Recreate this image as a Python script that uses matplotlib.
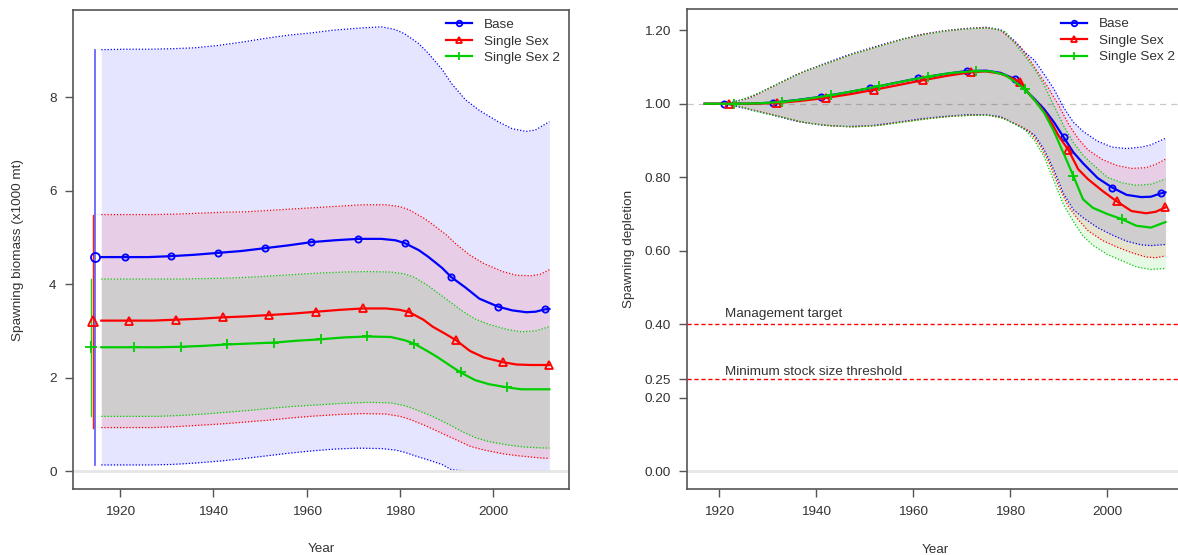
import matplotlib
matplotlib.use('Agg')
import matplotlib.pyplot as plt
from matplotlib.lines import Line2D

plt.rcParams['font.family'] = ['Liberation Sans', 'DejaVu Sans']
plt.rcParams['font.size'] = 9.7

# model names and colours
models = ['Base', 'Single Sex', 'Single Sex 2']
colors = ['#0000FF', '#FF0000', '#00CD00']
markers = ['o', '^', '+']

# spawning biomass (x1000 mt)
base_yr = [1916, 1921, 1926, 1931, 1936, 1941, 1946, 1951, 1956, 1961, 1966, 1971, 1976, 1979,
           1981, 1984, 1986, 1989, 1991, 1994, 1997, 2001, 2004, 2007, 2009, 2011, 2012]
base_ssb = [4.58, 4.58, 4.58, 4.60, 4.63, 4.67, 4.71, 4.77, 4.83, 4.90, 4.94, 4.97, 4.97, 4.94,
            4.88, 4.73, 4.59, 4.35, 4.15, 3.93, 3.69, 3.52, 3.44, 3.40, 3.41, 3.46, 3.47]
base_hi = [9.02, 9.03, 9.03, 9.04, 9.06, 9.11, 9.18, 9.26, 9.33, 9.38, 9.44, 9.48, 9.51, 9.45,
           9.36, 9.15, 8.95, 8.60, 8.30, 7.95, 7.72, 7.48, 7.33, 7.27, 7.30, 7.42, 7.48]
base_lo = [0.13, 0.13, 0.13, 0.14, 0.17, 0.21, 0.26, 0.32, 0.38, 0.43, 0.47, 0.49, 0.48, 0.45,
           0.40, 0.30, 0.24, 0.14, 0.03, 0, 0, 0, 0, 0, 0, 0, 0]

red_yr = [1916, 1922, 1927, 1932, 1937, 1942, 1947, 1952, 1957, 1962, 1967, 1972, 1977, 1980,
          1982, 1985, 1987, 1990, 1992, 1995, 1998, 2002, 2005, 2008, 2010, 2012]
red_ssb = [3.22, 3.22, 3.22, 3.24, 3.26, 3.29, 3.31, 3.34, 3.37, 3.41, 3.45, 3.48, 3.48, 3.45,
           3.40, 3.24, 3.09, 2.92, 2.80, 2.57, 2.43, 2.33, 2.28, 2.27, 2.27, 2.27]
red_hi = [5.49, 5.49, 5.49, 5.50, 5.52, 5.54, 5.55, 5.58, 5.61, 5.64, 5.67, 5.70, 5.70, 5.66,
          5.59, 5.42, 5.28, 5.05, 4.86, 4.62, 4.44, 4.27, 4.19, 4.18, 4.21, 4.31]
red_lo = [0.93, 0.93, 0.93, 0.95, 0.98, 1.01, 1.05, 1.09, 1.14, 1.18, 1.21, 1.23, 1.22, 1.17,
          1.11, 0.99, 0.90, 0.76, 0.67, 0.53, 0.45, 0.37, 0.33, 0.30, 0.28, 0.27]

grn_yr = [1916, 1923, 1928, 1933, 1938, 1943, 1948, 1953, 1958, 1963, 1968, 1973, 1978, 1981,
          1983, 1986, 1988, 1991, 1993, 1996, 1999, 2003, 2006, 2009, 2012]
grn_ssb = [2.65, 2.65, 2.65, 2.66, 2.68, 2.71, 2.73, 2.75, 2.79, 2.82, 2.86, 2.88, 2.87, 2.80,
           2.73, 2.56, 2.44, 2.24, 2.11, 1.95, 1.86, 1.79, 1.75, 1.75, 1.75]
grn_hi = [4.11, 4.11, 4.11, 4.11, 4.12, 4.13, 4.15, 4.18, 4.21, 4.24, 4.26, 4.27, 4.26, 4.22,
          4.15, 3.97, 3.82, 3.60, 3.45, 3.26, 3.14, 3.03, 2.98, 3.00, 3.09]
grn_lo = [1.17, 1.17, 1.17, 1.19, 1.22, 1.26, 1.30, 1.35, 1.39, 1.42, 1.45, 1.47, 1.46, 1.40,
          1.33, 1.21, 1.12, 0.97, 0.86, 0.72, 0.63, 0.56, 0.52, 0.50, 0.49]

# virgin spawning biomass with intervals
virg_x = [1914.6, 1914.3, 1913.8]
virg = [4.58, 3.22, 2.65]
virg_lo = [0.13, 0.93, 1.17]
virg_hi = [9.02, 5.49, 4.11]

# spawning depletion
base_dyr = [1917, 1921, 1926, 1931, 1936, 1941, 1946, 1951, 1956, 1961, 1966, 1971, 1975, 1978, 1981,
            1983, 1985, 1987, 1989, 1991, 1993, 1995, 1998, 2001, 2004, 2007, 2009, 2011, 2012]
base_dep = [1.0, 1.0, 1.0, 1.003, 1.01, 1.019, 1.03, 1.042, 1.056, 1.069, 1.08, 1.089, 1.09, 1.084, 1.067,
            1.038, 1.013, 0.985, 0.95, 0.909, 0.868, 0.838, 0.798, 0.772, 0.752, 0.746, 0.747, 0.756, 0.759]
base_dhi = [1.0, 1.0, 1.015, 1.047, 1.08, 1.106, 1.13, 1.151, 1.17, 1.187, 1.198, 1.205, 1.208, 1.202, 1.17,
            1.14, 1.118, 1.08, 1.04, 0.99, 0.95, 0.925, 0.898, 0.882, 0.878, 0.882, 0.888, 0.90, 0.906]
base_dlo = [1.0, 1.0, 0.985, 0.969, 0.952, 0.942, 0.938, 0.94, 0.948, 0.958, 0.965, 0.97, 0.97, 0.965, 0.945,
            0.93, 0.915, 0.875, 0.82, 0.755, 0.712, 0.69, 0.663, 0.643, 0.626, 0.616, 0.614, 0.616, 0.617]

red_dyr = [1917, 1922, 1927, 1932, 1937, 1942, 1947, 1952, 1957, 1962, 1967, 1972, 1975, 1978,
           1982, 1984, 1986, 1988, 1990, 1992, 1994, 1996, 1999, 2002, 2005, 2008, 2010, 2012]
red_dep = [1.0, 1.0, 1.0, 1.002, 1.008, 1.016, 1.026, 1.038, 1.051, 1.064, 1.076, 1.086, 1.088, 1.082,
           1.06, 1.025, 0.995, 0.96, 0.912, 0.874, 0.822, 0.795, 0.763, 0.734, 0.708, 0.702, 0.706, 0.718]
red_dhi = [1.0, 1.0, 1.02, 1.053, 1.085, 1.109, 1.133, 1.153, 1.173, 1.189, 1.199, 1.205, 1.207, 1.20,
           1.155, 1.12, 1.08, 1.04, 0.995, 0.945, 0.905, 0.875, 0.848, 0.832, 0.824, 0.826, 0.835, 0.849]
red_dlo = [1.0, 1.0, 0.983, 0.967, 0.95, 0.941, 0.937, 0.94, 0.949, 0.958, 0.965, 0.969, 0.969, 0.963,
           0.94, 0.925, 0.89, 0.84, 0.775, 0.72, 0.685, 0.655, 0.628, 0.61, 0.595, 0.583, 0.581, 0.586]

grn_dyr = [1917, 1923, 1928, 1933, 1938, 1943, 1948, 1953, 1958, 1963, 1968, 1973, 1976, 1979,
           1983, 1985, 1987, 1989, 1991, 1993, 1995, 1997, 2000, 2003, 2006, 2009, 2012]
grn_dep = [1.0, 1.0, 1.001, 1.005, 1.013, 1.023, 1.035, 1.048, 1.061, 1.074, 1.084, 1.089, 1.088, 1.078,
           1.04, 1.01, 0.975, 0.925, 0.865, 0.804, 0.74, 0.717, 0.70, 0.686, 0.668, 0.663, 0.678]
grn_dhi = [1.0, 1.003, 1.028, 1.06, 1.09, 1.113, 1.137, 1.156, 1.176, 1.19, 1.20, 1.205, 1.206, 1.196,
           1.13, 1.095, 1.05, 0.995, 0.94, 0.895, 0.86, 0.835, 0.80, 0.785, 0.778, 0.781, 0.795]
grn_dlo = [1.0, 0.997, 0.978, 0.963, 0.948, 0.94, 0.937, 0.941, 0.95, 0.959, 0.966, 0.969, 0.968, 0.958,
           0.93, 0.90, 0.855, 0.79, 0.725, 0.68, 0.64, 0.615, 0.59, 0.573, 0.556, 0.549, 0.552]

# points every 10 years, shifted one year per model
mark_years = [range(1921, 2013, 10), range(1922, 2013, 10), range(1923, 2013, 10)]

TXT = '#333333'
AX = '#555555'
msize = [4.5, 6, 7]


def style_axes(ax):
    for s in ax.spines.values():
        s.set_color(AX)
        s.set_linewidth(1.2)
    ax.tick_params(colors=AX, labelcolor=TXT, length=6, width=1, pad=6, labelsize=9.7)


def draw_models(ax, series):
    for (yr, v, lo, hi), c in zip(series, colors):
        ax.fill_between(yr, lo, hi, color=c, alpha=0.1, lw=0, zorder=1)
    for (yr, v, lo, hi), c in zip(series, colors):
        ax.plot(yr, lo, color=c, lw=0.9, ls=(0, (1, 1.5)), zorder=2)
        ax.plot(yr, hi, color=c, lw=0.9, ls=(0, (1, 1.5)), zorder=2)
    for i, ((yr, v, lo, hi), c) in enumerate(zip(series, colors)):
        idx = [k for k, y in enumerate(yr) if y in mark_years[i]]
        ax.plot(yr, v, color=c, lw=1.6, marker=markers[i], markevery=idx, ms=msize[i],
                mfc='none', mew=1.3, zorder=4)


def add_legend(ax):
    handles = [Line2D([], [], color=c, lw=1.6, marker=m, ms=s, mfc='none', mew=1.3)
               for c, m, s in zip(colors, markers, [4, 5, 6])]
    ax.legend(handles, models, loc='upper right', frameon=False, handlelength=1.9,
              handletextpad=0.9, labelspacing=0.3, borderaxespad=0.35, borderpad=0.3,
              labelcolor=TXT, fontsize=9.7)


fig = plt.figure(figsize=(11.78, 5.55), dpi=100)

# left panel: spawning biomass
ax1 = fig.add_axes([0.0622, 0.1189, 0.4208, 0.8631])
ax1.axhline(0, color='#E6E6E6', lw=2, zorder=2.5)
draw_models(ax1, [(base_yr, base_ssb, base_lo, base_hi),
                  (red_yr, red_ssb, red_lo, red_hi),
                  (grn_yr, grn_ssb, grn_lo, grn_hi)])
for i in range(3):
    ax1.plot([virg_x[i], virg_x[i]], [virg_lo[i], virg_hi[i]], color=colors[i],
             lw=1.3 if i == 0 else 1.0, alpha=0.6 if i == 0 else 0.9, zorder=3)
    ax1.plot(virg_x[i], virg[i], marker=markers[i], ms=[6.5, 7.5, 8][i], mfc='none',
             mec=colors[i], mew=1.3, zorder=5)
ax1.set_xlim(1910, 2016.2)
ax1.set_ylim(-0.385, 9.87)
ax1.set_xticks([1920, 1940, 1960, 1980, 2000])
ax1.set_yticks([0, 2, 4, 6, 8])
style_axes(ax1)
ax1.set_xlabel('Year', color=TXT)
ax1.set_ylabel('Spawning biomass (x1000 mt)', color=TXT)
ax1.xaxis.set_label_coords(0.5, -0.113)
ax1.yaxis.set_label_coords(-0.1, 0.5)
add_legend(ax1)

# right panel: spawning depletion
ax2 = fig.add_axes([0.5834, 0.1184, 0.4216, 0.8649])
ax2.axhline(0, color='#E6E6E6', lw=2, zorder=0)
ax2.axhline(1.0, color='#C8C8C8', lw=0.9, ls=(0, (5, 4)), zorder=0)
draw_models(ax2, [(base_dyr, base_dep, base_dlo, base_dhi),
                  (red_dyr, red_dep, red_dlo, red_dhi),
                  (grn_dyr, grn_dep, grn_dlo, grn_dhi)])
ax2.axhline(0.40, color='#FF0000', lw=1, ls=(0, (3, 2)), zorder=3)
ax2.axhline(0.25, color='#FF0000', lw=1, ls=(0, (3, 2)), zorder=3)
ax2.text(1921.2, 0.421, 'Management target', color=TXT, va='baseline', ha='left')
ax2.text(1921.2, 0.262, 'Minimum stock size threshold', color=TXT, va='baseline', ha='left')
ax2.set_xlim(1913.4, 2015.8)
ax2.set_ylim(-0.049, 1.257)
ax2.set_xticks([1920, 1940, 1960, 1980, 2000])
ax2.set_yticks([0, 0.2, 0.25, 0.4, 0.6, 0.8, 1.0, 1.2])
ax2.set_yticklabels(['%.2f' % t for t in [0, 0.2, 0.25, 0.4, 0.6, 0.8, 1.0, 1.2]])
style_axes(ax2)
ax2.set_xlabel('Year', color=TXT)
ax2.set_ylabel('Spawning depletion', color=TXT)
ax2.xaxis.set_label_coords(0.5, -0.113)
ax2.yaxis.set_label_coords(-0.105, 0.5)
add_legend(ax2)

fig.savefig('out.png', dpi=100)
